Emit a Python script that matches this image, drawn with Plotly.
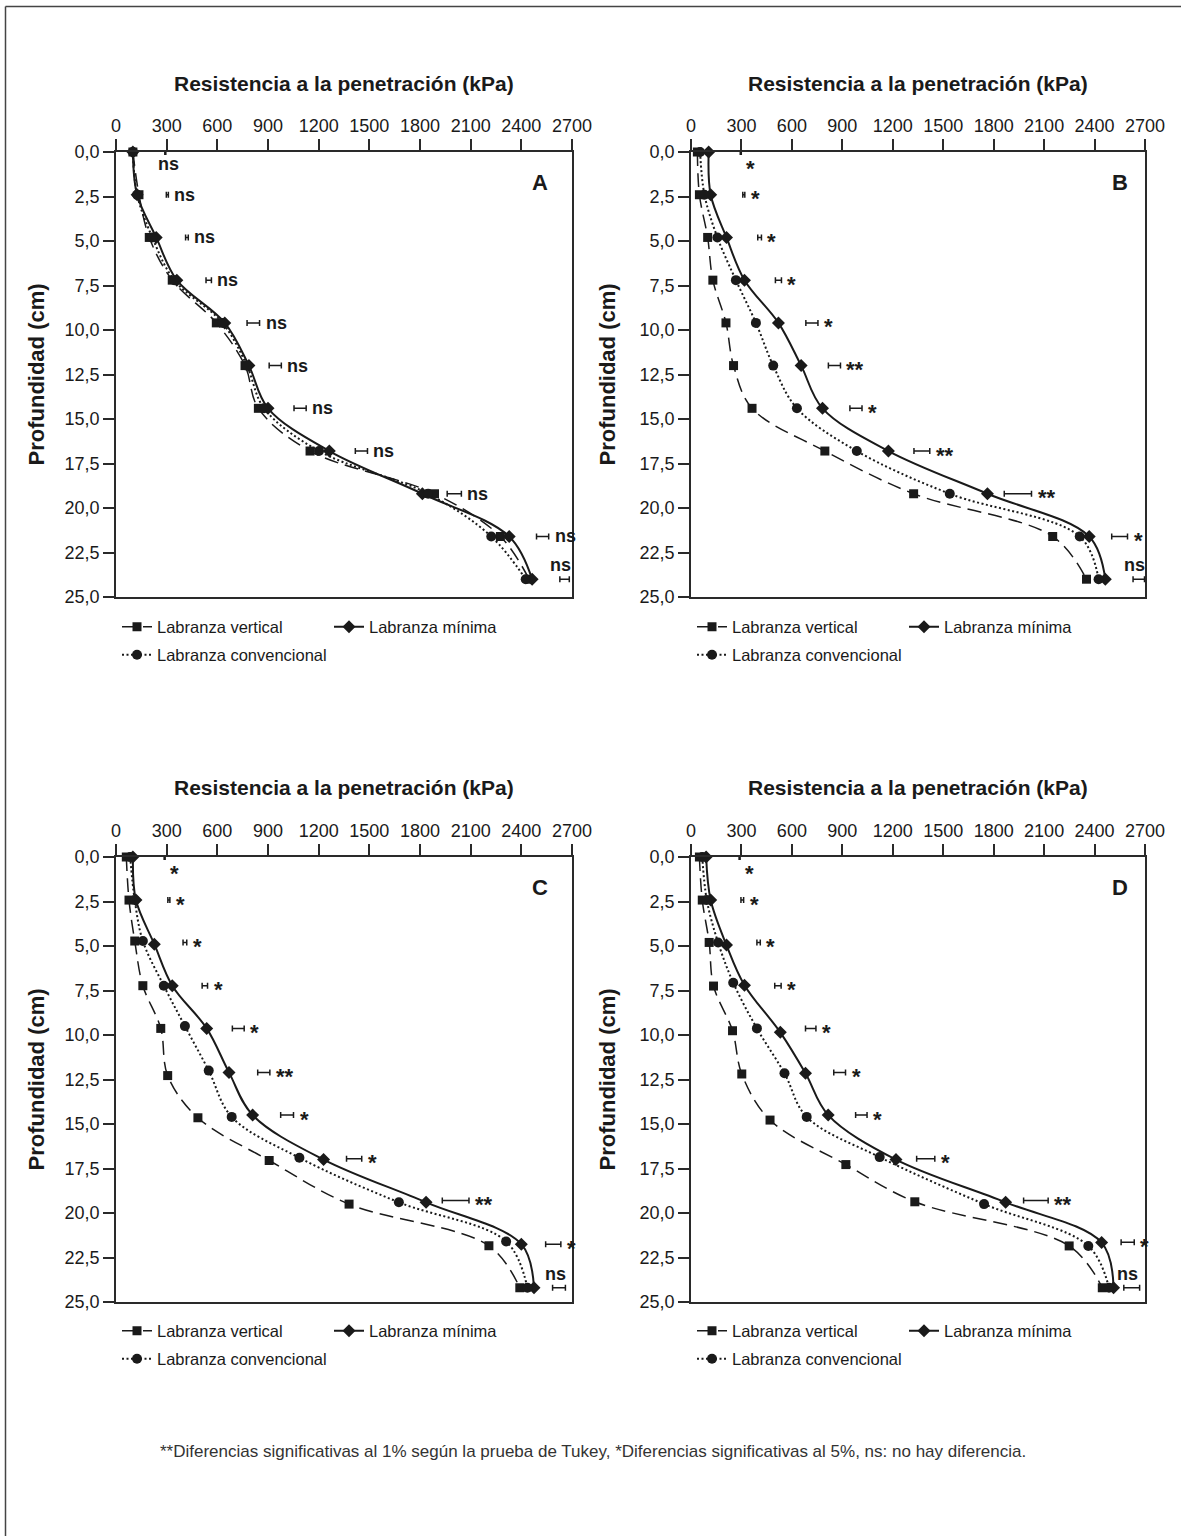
import plotly.graph_objects as go

# ---------------- data ----------------
X_TICKS = [0, 300, 600, 900, 1200, 1500, 1800, 2100, 2400, 2700]
Y_TICKS = [0, 2.5, 5, 7.5, 10, 12.5, 15, 17.5, 20, 22.5, 25]
Y_TICKTEXT = ["0,0", "2,5", "5,0", "7,5", "10,0", "12,5", "15,0", "17,5", "20,0", "22,5", "25,0"]
SERIES = ["Labranza vertical", "Labranza mínima", "Labranza convencional"]
PANELS = ["A", "B", "C", "D"]
X_TITLE = "Resistencia a la penetración (kPa)"
Y_TITLE = "Profundidad (cm)"
FOOTNOTE = ("**Diferencias significativas al 1% según la prueba de Tukey, "
            "*Diferencias significativas al 5%, ns: no hay diferencia.")

DEPTH = [0, 2.4, 4.8, 7.2, 9.6, 12.0, 14.4, 16.8, 19.2, 21.6, 24.0]

# Panel A
A_VERT = [100, 136, 197, 333, 594, 764, 843, 1149, 1886, 2276, 2446]
A_MIN = [100, 125, 238, 360, 644, 787, 900, 1263, 1814, 2328, 2464]
A_CONV = [100, 125, 215, 345, 630, 775, 877, 1202, 1848, 2222, 2426]
A_BAR_X = [292, 304, 420, 549, 813, 943, 1090, 1453, 2003, 2526, 2656]
A_BAR_HALF = [3, 6, 8, 16, 37, 36, 36, 36, 42, 36, 28]
A_SIG = ["ns", "ns", "ns", "ns", "ns", "ns", "ns", "ns", "ns", "ns", "ns"]

# Panel B
B_VERT = [38, 50, 99, 130, 208, 253, 363, 796, 1324, 2151, 2352]
B_MIN = [105, 117, 211, 318, 520, 655, 782, 1174, 1763, 2368, 2464]
B_CONV = [54, 80, 157, 267, 386, 489, 630, 986, 1539, 2312, 2424]
B_BAR_X = [296, 314, 408, 520, 719, 853, 981, 1373, 1944, 2549, 2663]
B_BAR_HALF = [3, 6, 11, 18, 36, 36, 36, 47, 81, 47, 34]
B_SIG = ["*", "*", "*", "*", "*", "**", "*", "**", "**", "*", "ns"]

# Panel C
C_VERT = [61, 77, 111, 159, 265, 306, 485, 907, 1380, 2208, 2391]
C_VERT_D = [0, 2.42, 4.72, 7.23, 9.63, 12.28, 14.65, 17.05, 19.5, 21.84, 24.2]
C_MIN = [100, 118, 227, 333, 537, 669, 809, 1229, 1836, 2400, 2475]
C_MIN_D = [0, 2.42, 4.9, 7.23, 9.63, 12.1, 14.5, 17.0, 19.4, 21.75, 24.2]
C_CONV = [84, 111, 159, 283, 408, 549, 685, 1086, 1675, 2310, 2436]
C_CONV_D = [0, 2.42, 4.72, 7.23, 9.5, 12.0, 14.6, 16.9, 19.4, 21.6, 24.2]
C_BAR_X = [288, 313, 408, 526, 724, 875, 1013, 1410, 2011, 2589, 2623]
C_BAR_HALF = [3, 6, 11, 16, 35, 36, 38, 45, 79, 45, 38]
C_BAR_D = [0, 2.42, 4.8, 7.23, 9.63, 12.1, 14.5, 16.95, 19.3, 21.75, 24.2]
C_SIG = ["*", "*", "*", "*", "*", "**", "*", "*", "**", "*", "ns"]

# Panel D
D_VERT = [50, 67, 108, 134, 247, 302, 470, 921, 1331, 2249, 2446]
D_VERT_D = [0, 2.42, 4.8, 7.25, 9.76, 12.19, 14.78, 17.28, 19.37, 21.85, 24.2]
D_MIN = [90, 117, 211, 318, 531, 681, 816, 1219, 1871, 2442, 2513]
D_MIN_D = [0, 2.42, 4.95, 7.2, 9.85, 12.15, 14.5, 17.0, 19.4, 21.66, 24.2]
D_CONV = [67, 94, 161, 251, 392, 556, 688, 1122, 1743, 2363, 2486]
D_CONV_D = [0, 2.42, 4.8, 7.06, 9.63, 12.15, 14.6, 16.86, 19.5, 21.85, 24.2]
D_BAR_X = [289, 305, 402, 517, 712, 884, 1013, 1396, 2051, 2597, 2621]
D_BAR_HALF = [3, 8, 10, 19, 31, 35, 34, 54, 73, 39, 47]
D_BAR_D = [0, 2.42, 4.8, 7.23, 9.63, 12.1, 14.5, 16.95, 19.3, 21.65, 24.2]
D_SIG = ["*", "*", "*", "*", "*", "*", "*", "*", "**", "*", "ns"]

PANEL_DATA = {
    "A": dict(vert=(A_VERT, DEPTH), mini=(A_MIN, DEPTH), conv=(A_CONV, DEPTH),
              bar=(A_BAR_X, A_BAR_HALF, DEPTH), sig=A_SIG),
    "B": dict(vert=(B_VERT, DEPTH), mini=(B_MIN, DEPTH), conv=(B_CONV, DEPTH),
              bar=(B_BAR_X, B_BAR_HALF, DEPTH), sig=B_SIG),
    "C": dict(vert=(C_VERT, C_VERT_D), mini=(C_MIN, C_MIN_D), conv=(C_CONV, C_CONV_D),
              bar=(C_BAR_X, C_BAR_HALF, C_BAR_D), sig=C_SIG),
    "D": dict(vert=(D_VERT, D_VERT_D), mini=(D_MIN, D_MIN_D), conv=(D_CONV, D_CONV_D),
              bar=(D_BAR_X, D_BAR_HALF, D_BAR_D), sig=D_SIG),
}

# ---------------- layout geometry (pixels) ----------------
W, H = 1181, 1536
FONT = "Liberation Sans, Arial, Helvetica, sans-serif"
INK = "#1a1a1a"
AX = "#2a2a2a"

BOXES = {  # (left, right, top, bottom)
    "A": (116, 572, 152, 597),
    "B": (691, 1145, 152, 597),
    "C": (116, 572, 857, 1302),
    "D": (691, 1145, 857, 1302),
}
TITLE_Y = {"A": 83, "B": 83, "C": 787, "D": 787}
YTITLE_X = {"A": 36, "B": 607, "C": 36, "D": 607}
LETTER_POS = {"A": (540, 182), "B": (1120, 182), "C": (540, 887), "D": (1120, 887)}
LEG_X = {"A": 117, "B": 692, "C": 117, "D": 692}
LEG_Y = {"A": (627, 655), "B": (627, 655), "C": (1331, 1359), "D": (1331, 1359)}


def px(x):
    return x / W


def py(y):
    return 1 - y / H


fig = go.Figure()
layout = dict(
    width=W, height=H, autosize=False,
    margin=dict(l=0, r=0, t=0, b=0, pad=0, autoexpand=False),
    paper_bgcolor="white", plot_bgcolor="white",
    font=dict(family=FONT, color=INK),
    annotations=[], shapes=[],
)

styles = {
    "vert": dict(dash="14px,7px", width=1.5, symbol="square", size=9),
    "mini": dict(dash="solid", width=2, symbol="diamond", size=10),
    "conv": dict(dash="2px,2.5px", width=2, symbol="circle", size=10),
}
names = {"vert": SERIES[0], "mini": SERIES[1], "conv": SERIES[2]}

for i, p in enumerate(PANELS):
    n = i + 1
    xa = "x" if n == 1 else f"x{n}"
    ya = "y" if n == 1 else f"y{n}"
    leg1 = "legend" if i == 0 else f"legend{2 * i + 1}"
    leg2 = f"legend{2 * i + 2}"
    d = PANEL_DATA[p]
    for key, leg in (("vert", leg1), ("mini", leg1), ("conv", leg2)):
        xs, ys = d[key]
        st = styles[key]
        fig.add_trace(go.Scatter(
            x=xs, y=ys, mode="lines+markers", name=names[key],
            xaxis=xa, yaxis=ya, legend=leg, cliponaxis=False,
            line=dict(color=INK, width=st["width"], dash=st["dash"],
                      shape="spline", smoothing=1.0),
            marker=dict(symbol=st["symbol"], size=st["size"], color=INK),
        ))
    bx, bh, bd = d["bar"]
    fig.add_trace(go.Scatter(
        x=bx, y=bd, mode="markers", showlegend=False, xaxis=xa, yaxis=ya,
        cliponaxis=False,
        marker=dict(size=1, color="rgba(0,0,0,0)"),
        error_x=dict(type="data", array=bh, symmetric=True, color=INK,
                     thickness=1.5, width=3),
    ))
    last = len(d["sig"]) - 1
    for k, lab in enumerate(d["sig"]):
        is_ns = lab == "ns"
        fnt = dict(family=FONT, size=18 if is_ns else 22, color=INK, weight="bold")
        ys = 0 if is_ns else -4
        if k == 0:
            layout["annotations"].append(dict(
                x=bx[k], y=bd[k], xref=xa, yref=ya, text=lab, showarrow=False,
                xanchor="center", yanchor="middle", xshift=3 if is_ns else 10,
                yshift=-12 + ys, font=fnt))
        elif k == last:
            layout["annotations"].append(dict(
                x=bx[k], y=bd[k], xref=xa, yref=ya, text=lab, showarrow=False,
                xanchor="center", yanchor="middle", xshift=-4, yshift=14, font=fnt))
        else:
            layout["annotations"].append(dict(
                x=bx[k] + bh[k], y=bd[k], xref=xa, yref=ya, text=lab,
                showarrow=False, xanchor="left", yanchor="middle",
                xshift=4, yshift=ys, font=fnt))

    l, r, t, b = BOXES[p]
    tickfont = dict(family=FONT, size=18, color=INK)
    layout["xaxis" if n == 1 else f"xaxis{n}"] = dict(
        domain=[px(l), px(r)], range=[0, 2700], side="top",
        anchor=ya, tickvals=X_TICKS, ticks="outside", ticklen=11, tickangle=0,
        tickwidth=1.5, tickcolor=AX, showline=True, linecolor=AX,
        linewidth=1.5, mirror=True, showgrid=False, zeroline=False,
        tickfont=tickfont, fixedrange=True, automargin=False,
    )
    layout["yaxis" if n == 1 else f"yaxis{n}"] = dict(
        domain=[py(b), py(t)], range=[25, 0], anchor=xa,
        tickvals=Y_TICKS, ticktext=Y_TICKTEXT, ticks="outside", ticklen=11,
        tickwidth=1.5, tickcolor=AX, showline=True, linecolor=AX,
        linewidth=1.5, mirror=True, showgrid=False, zeroline=False,
        tickfont=tickfont, fixedrange=True, automargin=False,
    )
    layout["annotations"].append(dict(
        x=px((l + r) / 2), y=py(TITLE_Y[p]), xref="paper", yref="paper",
        text=X_TITLE, showarrow=False, xanchor="center", yanchor="middle",
        font=dict(family=FONT, size=21, color=INK, weight="bold")))
    layout["annotations"].append(dict(
        x=px(YTITLE_X[p]), y=py((t + b) / 2), xref="paper", yref="paper",
        text=Y_TITLE, showarrow=False, textangle=-90, xanchor="center",
        yanchor="middle", font=dict(family=FONT, size=22, color=INK, weight="bold")))
    lx, ly = LETTER_POS[p]
    layout["annotations"].append(dict(
        x=px(lx), y=py(ly), xref="paper", yref="paper", text=p,
        showarrow=False, xanchor="center", yanchor="middle",
        font=dict(family=FONT, size=22, color=INK, weight="bold")))
    y1, y2 = LEG_Y[p]
    for leg, yy, ew in ((leg1, y1, 167), (leg2, y2, None)):
        cfg = dict(
            orientation="h", x=px(LEG_X[p]), y=py(yy), xanchor="left",
            yanchor="middle", bgcolor="rgba(0,0,0,0)", borderwidth=0,
            font=dict(family=FONT, size=16.5, color=INK),
            itemclick=False, itemdoubleclick=False,
        )
        if ew:
            cfg.update(entrywidth=ew, entrywidthmode="pixels")
        layout[leg] = cfg

layout["annotations"].append(dict(
    x=px(593), y=py(1451), xref="paper", yref="paper", text=FOOTNOTE,
    showarrow=False, xanchor="center", yanchor="middle",
    font=dict(family=FONT, size=17, color="#333333")))

layout["shapes"].append(dict(type="line", xref="paper", yref="paper",
                             x0=px(5.5), x1=px(5.5), y0=py(6.5), y1=0,
                             line=dict(color="#444", width=1.5)))
layout["shapes"].append(dict(type="line", xref="paper", yref="paper",
                             x0=px(5.5), x1=1, y0=py(6.5), y1=py(6.5),
                             line=dict(color="#444", width=1.5)))

fig.update_layout(**layout)
fig.write_html(
    "out.html",
    config={"displayModeBar": False},
    post_script="document.body.style.margin='0px';document.body.style.overflow='hidden';",
)
